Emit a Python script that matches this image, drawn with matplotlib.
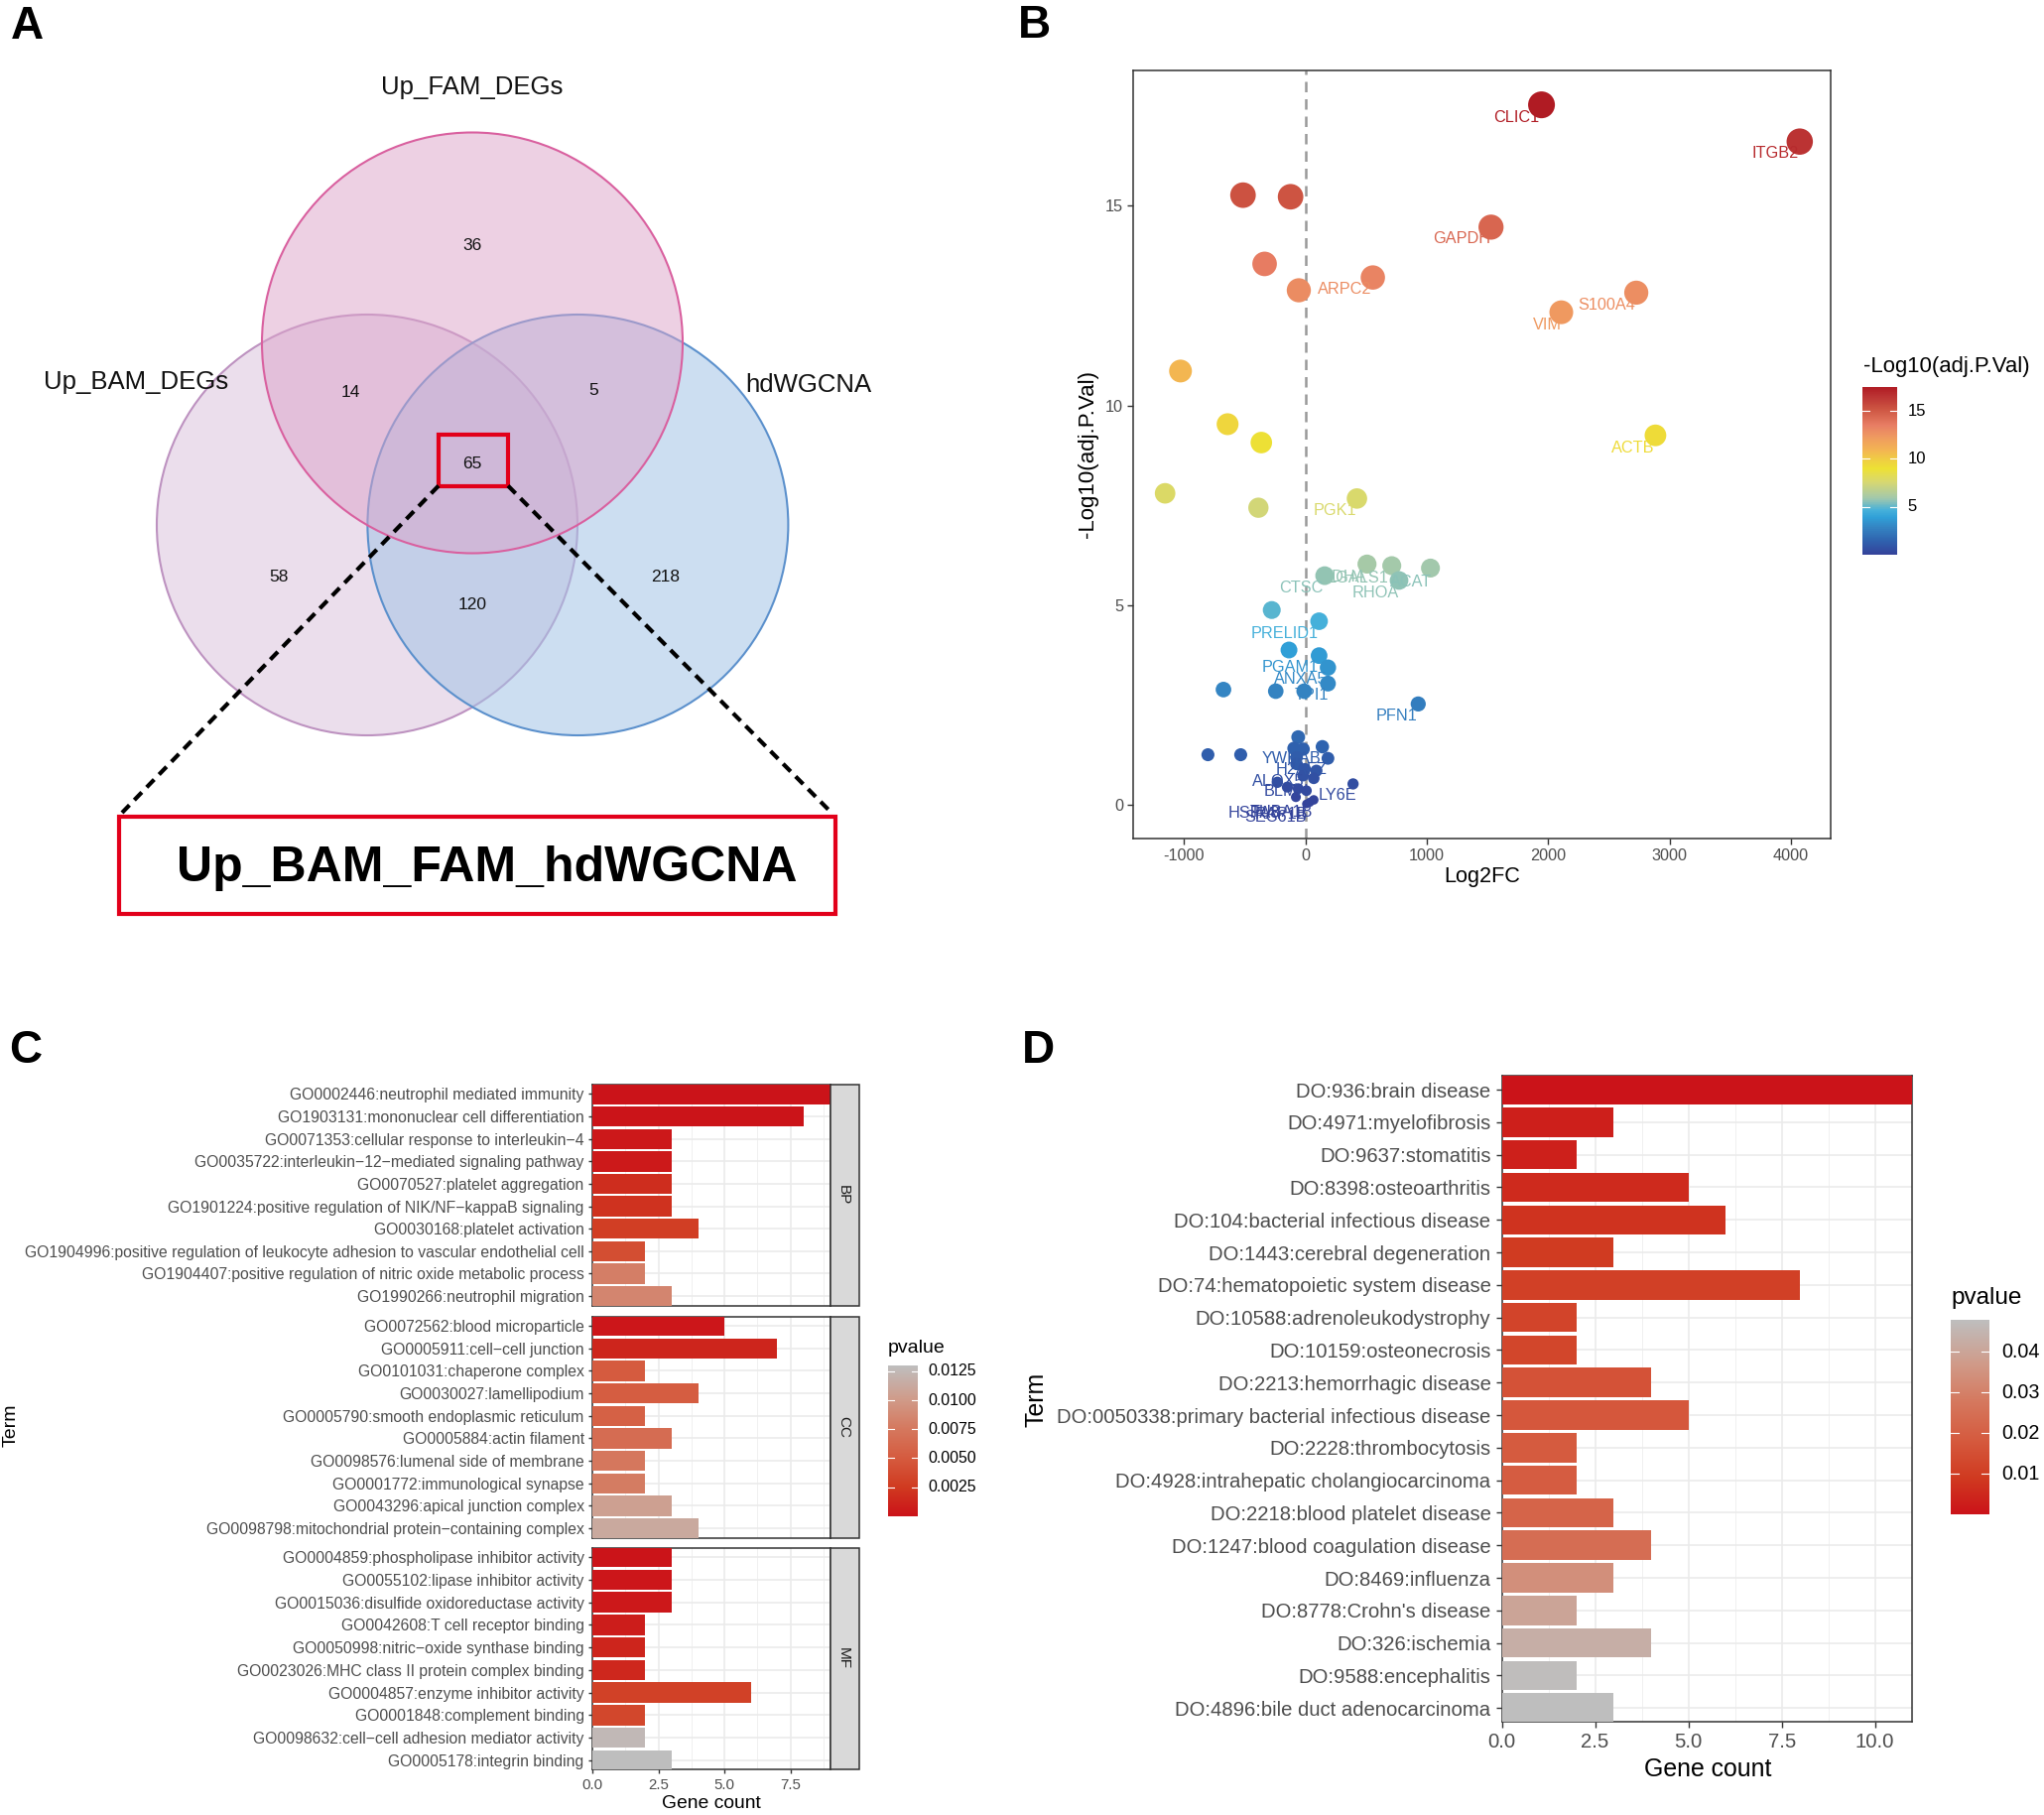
import numpy as np
import matplotlib
matplotlib.use("Agg")
import matplotlib.pyplot as plt
from matplotlib.colors import LinearSegmentedColormap, Normalize
from matplotlib.cm import ScalarMappable
from matplotlib.patches import Circle, Rectangle

plt.rcParams['font.family'] = ['Liberation Sans', 'DejaVu Sans']

# ---------- Panel A data
venn_sets = ["Up_FAM_DEGs", "Up_BAM_DEGs", "hdWGCNA"]
venn_counts = {"36": (476, 247), "14": (353, 395), "5": (598, 394), "65": (476, 467),
               "58": (281, 581), "120": (476.5, 610), "218": (671, 581)}
venn_result = "Up_BAM_FAM_hdWGCNA"

# ---------- Panel B data
log2fc = [1945, 4073, -515, -123, 1529, -337, 555, -55, 2726, 2108, -1030, -642, -364, 2884, -1157, 424, -388,
          158, 507, 711, 771, 1030,
          -278, 112, -136, 112, 185, 185, -676, -245, -11, 929,
          -60, -95, -19, 139, -804, -534, 185, -74, -74, -5, 90, -19, 68, -232, -150, 392, -60, 8, -79, 68, 8, 35]
neglog = [17.52, 16.6, 15.26, 15.22, 14.46, 13.54, 13.2, 12.88, 12.82, 12.33, 10.86, 9.53, 9.07, 9.25, 7.8, 7.67, 7.44,
          5.74, 6.03, 5.99, 5.62, 5.93,
          4.88, 4.60, 3.88, 3.74, 3.44, 3.04, 2.89, 2.85, 2.85, 2.53,
          1.70, 1.42, 1.40, 1.46, 1.26, 1.26, 1.17, 1.19, 1.03, 0.90, 0.86, 0.74, 0.67, 0.57, 0.45, 0.53, 0.41, 0.36, 0.20, 0.13, 0.03, 0.07]
gene_names = ["CLIC1", "ITGB2", "GAPDH", "ARPC2", "S100A4", "VIM", "ACTB", "PGK1", "LDHA", "LGALS1", "CTSC", "RHOA", "ACAT",
              "PRELID1", "PGAM1", "ANXA5", "TPI1", "PFN1", "YWHAB", "H2AFZ", "ALOX5", "BLMH", "LY6E",
              "HSPA8", "TUBA1B", "SEC61B", "RAP1B"]
gene_x = [1739, 3871, 1288, 325, 2484, 1989, 2702, 246, 321, 430, -33, 575, 866,
          -169, -123, -38, 49, 749, -114, -33, -226, -155, 267,
          -428, -196, -251, -200]
gene_y = [17.2, 16.3, 14.16, 12.9, 12.52, 12.02, 8.94, 7.37, 5.70, 5.67, 5.44, 5.31, 5.58,
          4.30, 3.44, 3.14, 2.74, 2.23, 1.15, 0.90, 0.58, 0.35, 0.24,
          -0.21, -0.17, -0.31, -0.22]
gene_val = [17.5, 16.9, 14.46, 12.88, 12.82, 12.33, 9.25, 7.67, 5.7, 5.7, 5.6, 5.62, 5.6,
            4.6, 3.44, 3.04, 2.85, 2.53, 1.2, 0.9, 0.57, 0.4, 0.4, 0.1, 0.1, 0.05, 0.1]

# ---------- Panel C data
bp_terms = ["GO0002446:neutrophil mediated immunity", "GO1903131:mononuclear cell differentiation",
            "GO0071353:cellular response to interleukin\u22124", "GO0035722:interleukin\u221212\u2212mediated signaling pathway",
            "GO0070527:platelet aggregation", "GO1901224:positive regulation of NIK/NF\u2212kappaB signaling",
            "GO0030168:platelet activation", "GO1904996:positive regulation of leukocyte adhesion to vascular endothelial cell",
            "GO1904407:positive regulation of nitric oxide metabolic process", "GO1990266:neutrophil migration"]
bp_count = [9, 8, 3, 3, 3, 3, 4, 2, 2, 3]
bp_p = [0.0001, 0.0002, 0.0004, 0.0005, 0.0017, 0.0020, 0.0028, 0.0040, 0.0080, 0.0085]
cc_terms = ["GO0072562:blood microparticle", "GO0005911:cell\u2212cell junction", "GO0101031:chaperone complex",
            "GO0030027:lamellipodium", "GO0005790:smooth endoplasmic reticulum", "GO0005884:actin filament",
            "GO0098576:lumenal side of membrane", "GO0001772:immunological synapse", "GO0043296:apical junction complex",
            "GO0098798:mitochondrial protein\u2212containing complex"]
cc_count = [5, 7, 2, 4, 2, 3, 2, 2, 3, 4]
cc_p = [0.0003, 0.0012, 0.0050, 0.0052, 0.0055, 0.0065, 0.0075, 0.0078, 0.0105, 0.0112]
mf_terms = ["GO0004859:phospholipase inhibitor activity", "GO0055102:lipase inhibitor activity",
            "GO0015036:disulfide oxidoreductase activity", "GO0042608:T cell receptor binding",
            "GO0050998:nitric\u2212oxide synthase binding", "GO0023026:MHC class II protein complex binding",
            "GO0004857:enzyme inhibitor activity", "GO0001848:complement binding",
            "GO0098632:cell\u2212cell adhesion mediator activity", "GO0005178:integrin binding"]
mf_count = [3, 3, 3, 2, 2, 2, 6, 2, 2, 3]
mf_p = [0.00015, 0.0003, 0.0004, 0.0007, 0.0012, 0.0013, 0.0030, 0.0035, 0.0125, 0.0130]

# ---------- Panel D data
do_terms = ["DO:936:brain disease", "DO:4971:myelofibrosis", "DO:9637:stomatitis", "DO:8398:osteoarthritis",
            "DO:104:bacterial infectious disease", "DO:1443:cerebral degeneration", "DO:74:hematopoietic system disease",
            "DO:10588:adrenoleukodystrophy", "DO:10159:osteonecrosis", "DO:2213:hemorrhagic disease",
            "DO:0050338:primary bacterial infectious disease", "DO:2228:thrombocytosis",
            "DO:4928:intrahepatic cholangiocarcinoma", "DO:2218:blood platelet disease", "DO:1247:blood coagulation disease",
            "DO:8469:influenza", "DO:8778:Crohn's disease", "DO:326:ischemia", "DO:9588:encephalitis",
            "DO:4896:bile duct adenocarcinoma"]
do_count = [11, 3, 2, 5, 6, 3, 8, 2, 2, 4, 5, 2, 2, 3, 4, 3, 2, 4, 2, 3]
do_p = [0.0002, 0.003, 0.0032, 0.0055, 0.0075, 0.0095, 0.011, 0.012, 0.0125, 0.016,
        0.0175, 0.0185, 0.019, 0.0215, 0.0245, 0.034, 0.040, 0.043, 0.0475, 0.048]

# ---------- helpers
W, H = 2060, 1829
fig = plt.figure(figsize=(W / 100, H / 100), dpi=100, facecolor="white")


def px_axes(x0, y0, x1, y1, **kw):
    return fig.add_axes([x0 / W, 1 - y1 / H, (x1 - x0) / W, (y1 - y0) / H], **kw)


overlay = px_axes(0, 0, W, H)
overlay.set_xlim(0, W)
overlay.set_ylim(H, 0)
overlay.axis("off")
overlay.set_zorder(5)
overlay.patch.set_alpha(0)

GREY = "#4d4d4d"
bar_cmap = LinearSegmentedColormap.from_list(
    "p", [(0, "#cb1219"), (0.19, "#d03a20"), (0.38, "#d55a3e"), (0.58, "#d5785e"), (0.77, "#d09a88"), (1, "#bebebe")])
vol_cmap = LinearSegmentedColormap.from_list(
    "v", [(0, "#34429a"), (1.4 / 17.5, "#2f62ae"), (2.85 / 17.5, "#3484c2"), (3.88 / 17.5, "#30a0d8"),
          (4.6 / 17.5, "#45b0da"), (5.9 / 17.5, "#a2c8ac"), (7.6 / 17.5, "#d8d870"), (9.0 / 17.5, "#ede134"),
          (10.0 / 17.5, "#f0cc44"), (10.9 / 17.5, "#f3b552"), (12.3 / 17.5, "#ef9a60"), (13.5 / 17.5, "#e87e64"),
          (15.2 / 17.5, "#cd5542"), (16.6 / 17.5, "#bb3333"), (1, "#b01b23")])


def colorbar(box, cmap, vmin, vmax, ticks, labels, label_x, size):
    cax = px_axes(*box)
    cb = fig.colorbar(ScalarMappable(Normalize(vmin, vmax), cmap), cax=cax)
    cb.outline.set_visible(False)
    cax.tick_params(length=0, labelright=False)
    for t, lab in zip(ticks, labels):
        cax.plot([0, 0.2], [t, t], color="white", lw=0.8)
        cax.plot([0.8, 1], [t, t], color="white", lw=0.8)
        py = box[3] - (t - vmin) / (vmax - vmin) * (box[3] - box[1])
        overlay.text(label_x, py, lab, fontsize=size, va="center", ha="left", color="black")


# ---------- Panel A
circles = [((370, 529), "#d9bedb", "#bd92c0", 0.5),
           ((582.4, 529), "#a3c3e6", "#5b90cc", 0.55),
           ((476, 345.5), "#dca2c9", "#d9609f", 0.5)]
for c, fc, ec, a in circles:
    overlay.add_patch(Circle(c, 212, facecolor=matplotlib.colors.to_rgba(fc, a), edgecolor=ec, lw=1.5))
for lab, (x, y) in venn_counts.items():
    overlay.text(x, y, lab, fontsize=12.5, ha="center", va="center", color="#111111")
for lab, (x, y) in zip(venn_sets, [(476, 88), (137, 385), (815, 388)]):
    overlay.text(x, y, lab, fontsize=18.5, ha="center", va="center", color="#111111")
overlay.add_patch(Rectangle((442, 438), 70, 51.5, fill=False, ec="#e2001a", lw=3))
overlay.add_patch(Rectangle((119.5, 823), 722.5, 98, facecolor="white", ec="#e2001a", lw=3))
overlay.plot([442, 123], [489.5, 819], color="black", lw=3, dashes=(2.6, 1.7))
overlay.plot([512, 838], [489.5, 819], color="black", lw=3, dashes=(2.6, 1.7))
overlay.text(491, 875, venn_result, fontsize=36, fontweight="bold", ha="center", va="center", color="black")
for lab, x, y in [("A", 27, 27), ("B", 1042, 26), ("C", 26, 1059), ("D", 1046, 1059)]:
    overlay.text(x, y, lab, fontsize=33, fontweight="bold", ha="center", va="center", color="black")

# ---------- Panel B
axb = px_axes(1142.3, 71, 1845, 845)
axb.set_xlim(-1418, 4328)
axb.set_ylim(-0.837, 18.38)
axb.axvline(0, color="#999999", lw=1.8, dashes=(4.2, 2.8), zorder=1)
vals = np.array(neglog)
norm_v = Normalize(0, 17.5)
diam_px = 8 + 4.55 * np.sqrt(vals)
axb.scatter(log2fc, neglog, c=vals, cmap=vol_cmap, norm=norm_v, s=(diam_px * 0.72) ** 2, linewidths=0, zorder=3)
for n, x, y, v in zip(gene_names, gene_x, gene_y, gene_val):
    axb.text(x, y, n, color=vol_cmap(norm_v(v)), fontsize=11.7, ha="center", va="center", zorder=4)
xt_b = list(range(-1000, 5000, 1000))
axb.set_xticks(xt_b)
axb.set_xticklabels([str(v) for v in xt_b])
axb.set_yticks([0, 5, 10, 15])
axb.tick_params(labelsize=11.7, colors=GREY, length=4, width=1, color="#333333")
for s in axb.spines.values():
    s.set_color("#333333")
    s.set_linewidth(1.1)
overlay.text(1494, 884, "Log2FC", fontsize=15.6, ha="center", va="center")
overlay.text(1097, 458, "-Log10(adj.P.Val)", fontsize=16, rotation=90, ha="center", va="center")
overlay.text(1878, 370, "-Log10(adj.P.Val)", fontsize=15.9, ha="left", va="center")
colorbar((1877.3, 390, 1911.7, 559), vol_cmap, 0, 17.5, [5, 10, 15], ["5", "10", "15"], 1922.7, 12)


# ---------- bar panels
def bar_panel(box, terms, count, p, xmax, cmap, norm, xt, minor, size, tick_size, ticklen, pad, show_x):
    ax = px_axes(*box)
    y = np.arange(len(terms))
    ax.barh(y, count, height=0.9, color=cmap(norm(np.array(p))), zorder=3)
    ax.set_ylim(len(terms) - 1 + 0.42, -0.42)
    ax.set_xlim(0, xmax)
    ax.set_yticks(y)
    ax.set_yticklabels(terms, fontsize=size, color=GREY)
    ax.set_xticks(xt)
    ax.set_xticks(minor, minor=True)
    ax.grid(True, which="major", color="#ebebeb", lw=1.2, zorder=0)
    ax.grid(True, which="minor", axis="x", color="#f0f0f0", lw=0.7, zorder=0)
    ax.set_axisbelow(True)
    ax.tick_params(axis="both", which="major", color="#333333", length=ticklen, width=1, pad=pad)
    ax.tick_params(axis="x", which="minor", length=0)
    ax.tick_params(axis="x", labelsize=tick_size, labelcolor=GREY, labelbottom=show_x, bottom=show_x)
    ax.set_xticklabels([f"{v:.1f}" for v in xt])
    for s in ax.spines.values():
        s.set_color("#333333")
        s.set_linewidth(1.1)
    return ax


norm_c = Normalize(0, 0.013)
xt_c = [0, 2.5, 5, 7.5]
mn_c = [1.25, 3.75, 6.25, 8.75]
for (y0, y1), terms, cnt, p, strip, showx in [
    ((1093, 1315.5), bp_terms, bp_count, bp_p, "BP", False),
    ((1326.5, 1549.7), cc_terms, cc_count, cc_p, "CC", False),
    ((1559.7, 1783.3), mf_terms, mf_count, mf_p, "MF", True)]:
    bar_panel((597, y0, 836.7, y1), terms, cnt, p, 9, bar_cmap, norm_c, xt_c, mn_c, 11.3, 10.8, 3, 3, showx)
    overlay.add_patch(Rectangle((836.7, y0), 29.3, y1 - y0, facecolor="#d9d9d9", edgecolor="#333333", lw=1.1))
    overlay.text(850, (y0 + y1) / 2, strip, fontsize=11, rotation=-90, ha="center", va="center", color="#1a1a1a")
overlay.text(717, 1818, "Gene count", fontsize=13.9, ha="center", va="center")
overlay.text(11, 1436, "Term", fontsize=14, rotation=90, ha="center", va="center")
overlay.text(895, 1358.5, "pvalue", fontsize=14, ha="left", va="center")
colorbar((895, 1376, 925, 1527.7), bar_cmap, 0, 0.013, [0.0025, 0.005, 0.0075, 0.01, 0.0125],
         ["0.0025", "0.0050", "0.0075", "0.0100", "0.0125"], 935.6, 11.4)

norm_d = Normalize(0, 0.048)
bar_panel((1513.5, 1084.3, 1927.3, 1735), do_terms, do_count, do_p, 11, bar_cmap, norm_d,
          [0, 2.5, 5, 7.5, 10], [1.25, 3.75, 6.25, 8.75], 14.6, 14.6, 4, 4, True)
overlay.text(1721, 1783, "Gene count", fontsize=17.9, ha="center", va="center")
overlay.text(1044, 1410, "Term", fontsize=17.9, rotation=90, ha="center", va="center")
overlay.text(1966, 1307.6, "pvalue", fontsize=17.5, ha="left", va="center")
colorbar((1965.8, 1329.7, 2005, 1526.4), bar_cmap, 0, 0.048, [0.01, 0.02, 0.03, 0.04],
         ["0.01", "0.02", "0.03", "0.04"], 2017.5, 14.2)

fig.savefig("out.png", dpi=100, facecolor="white")
